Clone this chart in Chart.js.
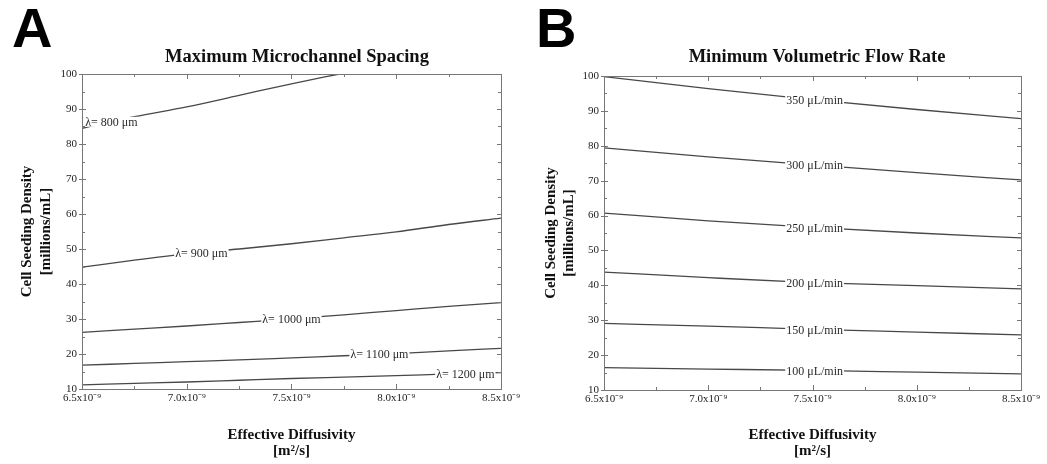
<!DOCTYPE html>
<html>
<head>
<meta charset="utf-8">
<script src="https://cdn.jsdelivr.net/npm/chart.js@4.4.1/dist/chart.umd.min.js"></script>
<style>
body { margin: 0; background: #fff; width: 1047px; height: 464px; overflow: hidden; }
canvas { position: absolute; top: 0; }
#chartA { left: 0; }
#chartB { left: 523px; }
</style>
</head>
<body>
<canvas id="chartA" width="523" height="464"></canvas>
<canvas id="chartB" width="524" height="464"></canvas>
<script>
// effective diffusivity, in units of 1e-9 m^2/s
const xTicks = [6.5, 7.0, 7.5, 8.0, 8.5];
const xMinorTicks = [6.75, 7.25, 7.75, 8.25];
const yTicks = [10, 20, 30, 40, 50, 60, 70, 80, 90, 100];
const yMinorTicks = [15, 25, 35, 45, 55, 65, 75, 85, 95];

// panel A - maximum microchannel spacing contours
const diffusivityA = [6.5, 6.75, 7.0, 7.25, 7.5, 7.75, 8.0, 8.25, 8.5];
const diffusivity800 = [6.5, 6.75, 7.0, 7.25, 7.5, 7.73];
const lambda800 = [84.5, 87.8, 90.6, 93.9, 97.2, 100];
const lambda900 = [44.8, 46.8, 48.6, 50.0, 51.5, 53.2, 54.9, 57.0, 58.8];
const lambda1000 = [26.2, 27.1, 28.0, 29.0, 30.0, 31.2, 32.4, 33.6, 34.7];
const lambda1100 = [16.8, 17.3, 17.8, 18.3, 18.9, 19.5, 20.1, 20.9, 21.6];
const lambda1200 = [11.2, 11.6, 12.0, 12.5, 13.0, 13.4, 13.8, 14.3, 14.7];
const spacingLabels = ['λ= 800 μm', 'λ= 900 μm', 'λ= 1000 μm', 'λ= 1100 μm', 'λ= 1200 μm'];
const spacingLabelAt = [6.64, 7.07, 7.5, 7.92, 8.33];

// panel B - minimum volumetric flow rate contours
const diffusivityB = [6.5, 7.0, 7.5, 8.0, 8.5];
const flow350 = [99.8, 96.4, 93.2, 90.4, 87.8];
const flow300 = [79.4, 76.8, 74.5, 72.3, 70.2];
const flow250 = [60.7, 58.5, 56.6, 55.0, 53.6];
const flow200 = [43.8, 42.2, 40.8, 39.9, 39.0];
const flow150 = [29.1, 28.3, 27.4, 26.6, 25.8];
const flow100 = [16.4, 16.0, 15.6, 15.1, 14.6];
const flowLabels = ['350 μL/min', '300 μL/min', '250 μL/min', '200 μL/min', '150 μL/min', '100 μL/min'];
const flowLabelAt = 7.51;

const serif = '"Liberation Serif", "Times New Roman", serif';

function valueAt(pts, x) {
    for (let i = 1; i < pts.length; i++) {
        if (x <= pts[i].x) {
            const t = (x - pts[i - 1].x) / (pts[i].x - pts[i - 1].x);
            return pts[i - 1].y + t * (pts[i].y - pts[i - 1].y);
        }
    }
    return pts[pts.length - 1].y;
}

// contour labels sitting in a gap of the line
const lineLabels = {
    id: 'lineLabels',
    afterDatasetsDraw(chart) {
        const ctx = chart.ctx;
        ctx.save();
        ctx.font = '12px ' + serif;
        ctx.textAlign = 'center';
        ctx.textBaseline = 'middle';
        chart.data.datasets.forEach(ds => {
            const px = chart.scales.x.getPixelForValue(ds.labelAt);
            const py = chart.scales.y.getPixelForValue(valueAt(ds.data, ds.labelAt));
            const w = ctx.measureText(ds.label).width + 2;
            ctx.fillStyle = '#fff';
            ctx.fillRect(px - w / 2, py - 5, w, 10);
            ctx.fillStyle = '#2a2a2a';
            ctx.fillText(ds.label, px, py + 1);
        });
        ctx.restore();
    }
};

// frame with ticks, panel title and panel letter
const frame = {
    id: 'frame',
    afterDraw(chart, args, opts) {
        const ctx = chart.ctx;
        const a = chart.chartArea;
        const sx = chart.scales.x, sy = chart.scales.y;
        ctx.save();
        ctx.strokeStyle = '#777';
        ctx.lineWidth = 1;
        ctx.strokeRect(Math.round(a.left) + 0.5, Math.round(a.top) + 0.5,
            Math.round(a.right - a.left), Math.round(a.bottom - a.top));
        ctx.beginPath();
        const xt = (vals, len) => vals.forEach(v => {
            const p = Math.round(sx.getPixelForValue(v)) + 0.5;
            ctx.moveTo(p, a.bottom); ctx.lineTo(p, a.bottom - len);
            ctx.moveTo(p, a.top); ctx.lineTo(p, a.top + len);
        });
        const yt = (vals, len, out) => vals.forEach(v => {
            const p = Math.round(sy.getPixelForValue(v)) + 0.5;
            ctx.moveTo(a.left - out, p); ctx.lineTo(a.left + len, p);
            ctx.moveTo(a.right, p); ctx.lineTo(a.right - len, p);
        });
        xt(xTicks, 5); xt(xMinorTicks, 3);
        yt(yTicks, 4, 3); yt(yMinorTicks, 3, 0);
        ctx.stroke();

        ctx.fillStyle = '#111';
        ctx.textAlign = 'center';
        ctx.textBaseline = 'alphabetic';
        ctx.font = 'bold 18.5px ' + serif;
        ctx.fillText(opts.title, opts.titleX, 62);
        ctx.textAlign = 'left';
        ctx.fillStyle = '#000';
        ctx.font = 'bold 56px "Liberation Sans", Arial, sans-serif';
        ctx.fillText(opts.letter, opts.letterX, 47);
        ctx.restore();
    }
};

function makePanel(id, datasets, p) {
    new Chart(document.getElementById(id), {
        type: 'line',
        data: { datasets: datasets },
        options: {
            responsive: false,
            animation: false,
            layout: { padding: { left: 0, right: p.right, top: p.top, bottom: 0 } },
            elements: {
                line: { borderColor: '#484848', borderWidth: 1.3, cubicInterpolationMode: 'monotone' },
                point: { radius: 0 }
            },
            plugins: {
                legend: { display: false },
                tooltip: { enabled: false },
                frame: { title: p.title, titleX: p.titleX, letter: p.letter, letterX: p.letterX }
            },
            scales: {
                x: {
                    type: 'linear', min: 6.5, max: 8.5,
                    afterBuildTicks: s => { s.ticks = xTicks.map(v => ({ value: v })); },
                    afterFit: s => { s.height = p.xHeight; },
                    grid: { display: false, drawTicks: false },
                    border: { display: false },
                    ticks: {
                        maxRotation: 0, padding: 3, color: '#222',
                        font: { family: serif, size: 11 },
                        callback: v => v.toFixed(1) + 'x10⁻⁹'
                    },
                    title: {
                        display: true, color: '#111',
                        text: ['Effective Diffusivity', '[m²/s]'],
                        font: { family: serif, size: 15, weight: 'bold', lineHeight: 1.05 },
                        padding: { top: 0, bottom: 5 }
                    }
                },
                y: {
                    min: 10, max: 100,
                    afterBuildTicks: s => { s.ticks = yTicks.map(v => ({ value: v })); },
                    afterFit: s => { s.width = p.yWidth; },
                    grid: { display: false, drawTicks: false },
                    border: { display: false },
                    ticks: { padding: 5, color: '#222', font: { family: serif, size: 11 } },
                    title: {
                        display: true, color: '#111',
                        text: ['Cell Seeding Density', '[millions/mL]'],
                        font: { family: serif, size: 15, weight: 'bold', lineHeight: p.yLine },
                        padding: { top: p.yPad, bottom: 0 }
                    }
                }
            }
        },
        plugins: [lineLabels, frame]
    });
}

const pairs = (xs, ys) => ys.map((y, i) => ({ x: xs[i], y: y }));

const spacingSeries = [lambda800, lambda900, lambda1000, lambda1100, lambda1200];
makePanel('chartA', spacingSeries.map((ys, i) => ({
    label: spacingLabels[i],
    labelAt: spacingLabelAt[i],
    data: pairs(i === 0 ? diffusivity800 : diffusivityA, ys)
})), {
    right: 21, top: 74, xHeight: 75, yWidth: 82, yLine: 1.3, yPad: 17,
    title: 'Maximum Microchannel Spacing', titleX: 297, letter: 'A', letterX: 12
});

const flowSeries = [flow350, flow300, flow250, flow200, flow150, flow100];
makePanel('chartB', flowSeries.map((ys, i) => ({
    label: flowLabels[i],
    labelAt: flowLabelAt,
    data: pairs(diffusivityB, ys)
})), {
    right: 26, top: 76, xHeight: 74, yWidth: 81, yLine: 1.2, yPad: 19,
    title: 'Minimum Volumetric Flow Rate', titleX: 294, letter: 'B', letterX: 13
});
</script>
</body>
</html>
